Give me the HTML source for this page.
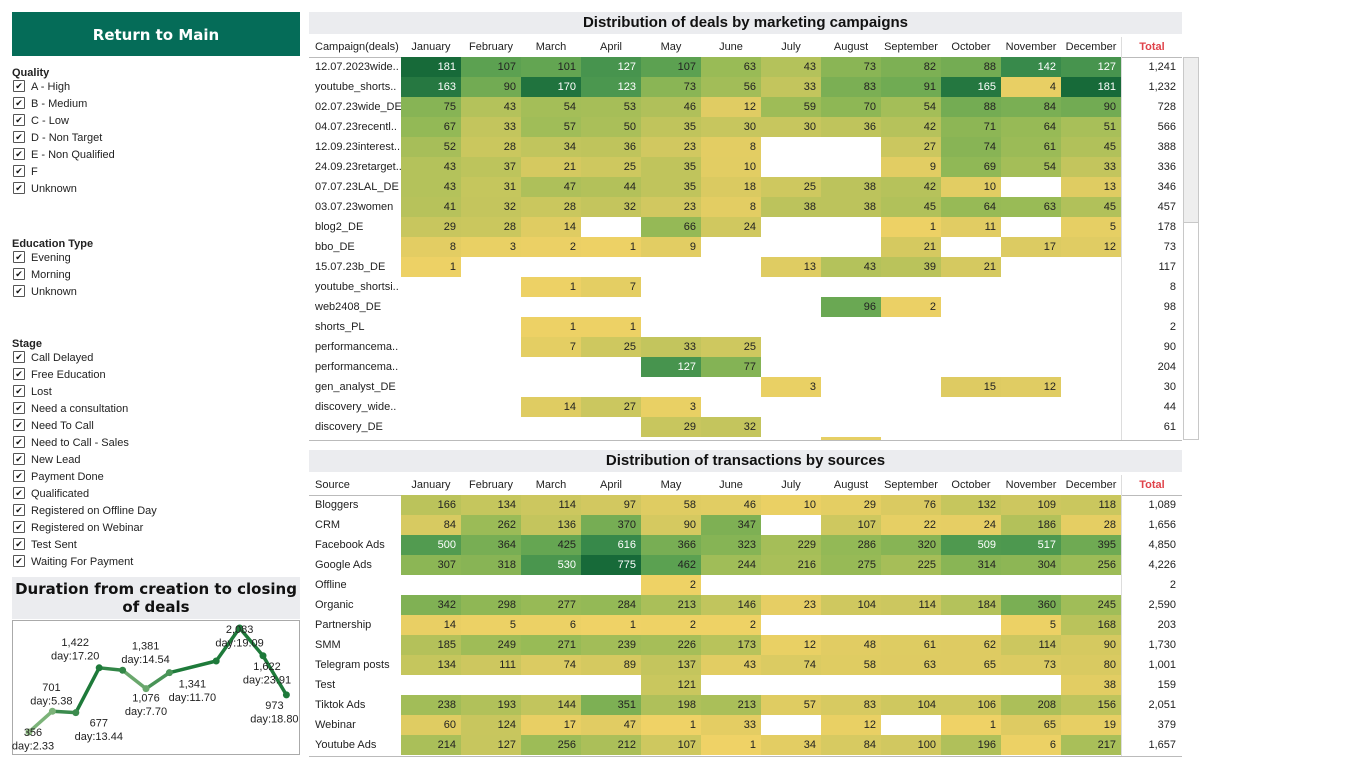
<!DOCTYPE html>
<html><head><meta charset="utf-8">
<style>
body{margin:0;width:1365px;height:767px;background:#fff;font-family:"Liberation Sans",sans-serif;position:relative;overflow:hidden;color:#222}
.abs{position:absolute}
.btn{left:12px;top:12px;width:288px;height:44px;background:#056c58;color:#fff;font-family:"DejaVu Sans",sans-serif;font-weight:bold;font-size:15px;line-height:46px;text-align:center}
.fh{font-size:11px;font-weight:bold;left:12px}
.fi{font-size:11px;left:13px;height:15px;line-height:15px;white-space:nowrap}
.cb{display:inline-block;width:10px;height:10px;border:1.5px solid #555;border-radius:1px;font-size:9px;line-height:10px;text-align:center;vertical-align:middle;margin-right:6px;margin-top:-2px;color:#111}
.ttl{background:#ebecef;font-weight:bold;font-size:15px;text-align:center;color:#111}
.cell{font-size:11px;text-align:right;box-sizing:border-box;padding-right:5px;height:20px;line-height:20px;width:60px}
.hd{font-size:11px;text-align:center;height:20px;line-height:20px;width:60px}
.lb{font-size:11px;height:20px;line-height:20px;left:315px;white-space:nowrap}
</style></head><body>
<div class="abs btn">Return to Main</div>
<div id="filters"></div>
<div class="abs ttl" style="left:12px;top:577px;width:288px;height:42px;line-height:18px;padding-top:3px;box-sizing:border-box;font-family:'DejaVu Sans',sans-serif">Duration from creation to closing of deals</div>
<svg class="abs" style="left:12px;top:620px;overflow:visible" width="289" height="136" id="line"></svg>
<div class="abs ttl" style="left:309px;top:12px;width:873px;height:22px;line-height:22px">Distribution of deals by marketing campaigns</div>
<div class="abs ttl" style="left:309px;top:450px;width:873px;height:22px;line-height:22px">Distribution of transactions by sources</div>
<div class="abs" style="left:1183px;top:57px;width:16px;height:383px;border:1px solid #c8c8c8;box-sizing:border-box;background:#fff"><div style="margin:0;height:164px;background:#eee;border-bottom:1px solid #c8c8c8"></div></div>
<div id="t1"></div><div id="t2"></div>
<script>
const qualityItems=["A - High","B - Medium","C - Low","D - Non Target","E - Non Qualified","F","Unknown"];
const eduItems=["Evening","Morning","Unknown"];
const stageItems=["Call Delayed","Free Education","Lost","Need a consultation","Need To Call","Need to Call - Sales","New Lead","Payment Done","Qualificated","Registered on Offline Day","Registered on Webinar","Test Sent","Waiting For Payment"];
const months=["January","February","March","April","May","June","July","August","September","October","November","December"];
const campaigns=["12.07.2023wide..","youtube_shorts..","02.07.23wide_DE","04.07.23recentl..","12.09.23interest..","24.09.23retarget..","07.07.23LAL_DE","03.07.23women","blog2_DE","bbo_DE","15.07.23b_DE","youtube_shortsi..","web2408_DE","shorts_PL","performancema..","performancema..","gen_analyst_DE","discovery_wide..","discovery_DE","performancema.."];
const N=null;
const campaignValues=[
[181,107,101,127,107,63,43,73,82,88,142,127],
[163,90,170,123,73,56,33,83,91,165,4,181],
[75,43,54,53,46,12,59,70,54,88,84,90],
[67,33,57,50,35,30,30,36,42,71,64,51],
[52,28,34,36,23,8,N,N,27,74,61,45],
[43,37,21,25,35,10,N,N,9,69,54,33],
[43,31,47,44,35,18,25,38,42,10,N,13],
[41,32,28,32,23,8,38,38,45,64,63,45],
[29,28,14,N,66,24,N,N,1,11,N,5],
[8,3,2,1,9,N,N,N,21,N,17,12],
[1,N,N,N,N,N,13,43,39,21,N,N],
[N,N,1,7,N,N,N,N,N,N,N,N],
[N,N,N,N,N,N,N,96,2,N,N,N],
[N,N,1,1,N,N,N,N,N,N,N,N],
[N,N,7,25,33,25,N,N,N,N,N,N],
[N,N,N,N,127,77,N,N,N,N,N,N],
[N,N,N,N,N,N,3,N,N,15,12,N],
[N,N,14,27,3,N,N,N,N,N,N,N],
[N,N,N,N,29,32,N,N,N,N,N,N],
[N,N,N,N,N,N,N,5,N,N,N,N]];
const campaignTotals=["1,241","1,232","728","566","388","336","346","457","178","73","117","8","98","2","90","204","30","44","61","5"];
const sources=["Bloggers","CRM","Facebook Ads","Google Ads","Offline","Organic","Partnership","SMM","Telegram posts","Test","Tiktok Ads","Webinar","Youtube Ads"];
const sourceValues=[
[166,134,114,97,58,46,10,29,76,132,109,118],
[84,262,136,370,90,347,N,107,22,24,186,28],
[500,364,425,616,366,323,229,286,320,509,517,395],
[307,318,530,775,462,244,216,275,225,314,304,256],
[N,N,N,N,2,N,N,N,N,N,N,N],
[342,298,277,284,213,146,23,104,114,184,360,245],
[14,5,6,1,2,2,N,N,N,N,5,168],
[185,249,271,239,226,173,12,48,61,62,114,90],
[134,111,74,89,137,43,74,58,63,65,73,80],
[N,N,N,N,121,N,N,N,N,N,N,38],
[238,193,144,351,198,213,57,83,104,106,208,156],
[60,124,17,47,1,33,N,12,N,1,65,19],
[214,127,256,212,107,1,34,84,100,196,6,217]];
const sourceTotals=["1,089","1,656","4,850","4,226","2","2,590","203","1,730","1,001","159","2,051","379","1,657"];
const durMonths=[1,2,3,4,5,6,7,9,10,11,12];
const durCounts=[356,701,677,1422,1381,1076,1341,1535,2083,1622,973];
const durDays=[2.33,5.38,13.44,17.20,14.54,7.70,11.70,17.5,19.09,23.91,18.80];
const durLabels=["356","701","677","1,422","1,381","1,076","1,341","","2,083","1,622","973"];
const durDayLabels=["day:2.33","day:5.38","day:13.44","day:17.20","day:14.54","day:7.70","day:11.70","","day:19.09","day:23.91","day:18.80"];

function mk(parent,cls,style,text,name,inter){const d=document.createElement('div');d.className='abs '+cls;d.style.cssText=style;if(text!=null)d.textContent=text;


parent.appendChild(d);return d;}
const F=document.getElementById('filters');
function group(title,items,y0,slug){mk(F,'fh','top:'+(y0-5)+'px',title,slug+'-filter-title',false);
items.forEach((t,i)=>{const e=mk(F,'fi','top:'+(y0+8+i*17)+'px',null,slug+'-option-'+t.toLowerCase().replace(/[^a-z0-9]+/g,'-'),true);
e.innerHTML='<span class="cb">✔</span>'+t;});}
group('Quality',qualityItems,72,'quality');group('Education Type',eduItems,243,'education');group('Stage',stageItems,343,'stage');

const stops=[[0,[242,211,102]],[0.3,[221,203,98]],[0.45,[190,196,92]],[0.6,[150,186,86]],[0.75,[98,165,82]],[0.88,[58,140,76]],[1,[23,106,57]]];
function col(t){for(let i=1;i<stops.length;i++){if(t<=stops[i][0]){const a=stops[i-1],b=stops[i],f=(t-a[0])/(b[0]-a[0]);return 'rgb('+a[1].map((v,k)=>Math.round(v+(b[1][k]-v)*f)).join(',')+')';}}return 'rgb(23,106,57)';}
function table(id,top,headLabel,labels,vals,totals,clipBottom,slug){
 const P=document.getElementById(id);
 const wrap=mk(P,'','left:309px;top:'+top+'px;width:873px;height:'+(clipBottom-top)+'px;overflow:hidden',null,slug+'-table',false);
 mk(wrap,'lb','left:6px;top:0','' +headLabel,slug+'-header-label',false);
 months.forEach((m,j)=>mk(wrap,'hd','left:'+(92+j*60)+'px;top:0',m,slug+'-header-'+m.toLowerCase(),false));
 mk(wrap,'hd','left:812px;top:0;color:#e0434b;font-weight:bold;border-left:1px solid #ddd',"Total",slug+'-header-total',false);
 mk(wrap,'','left:0;top:20px;width:873px;height:1px;background:#bbb',null,slug+'-header-rule',false);
 mk(wrap,'','left:812px;top:0;width:1px;height:'+(clipBottom-top)+'px;background:#ddd',null,slug+'-total-rule',false);
 let mx=0;vals.forEach(r=>r.forEach(v=>{if(v!=null&&v>mx)mx=v;}));
 labels.forEach((l,i)=>{const y=20+i*20;
  mk(wrap,'lb','left:6px;top:'+y+'px',l,slug+'-row-label',false);
  vals[i].forEach((v,j)=>{if(v==null)return;const t=Math.sqrt(v/mx);
   mk(wrap,'cell','left:'+(92+j*60)+'px;top:'+y+'px;background:'+col(t)+';color:'+(t>0.8?'#fff':'#222'),v,slug+'-cell-'+months[j].toLowerCase(),false);});
  mk(wrap,'cell','left:812px;top:'+y+'px;width:60px',totals[i],slug+'-row-total',false);});
 mk(wrap,'','left:0;top:'+(clipBottom-top-1)+'px;width:873px;height:1px;background:#bbb',null,slug+'-bottom-rule',false);
}
table('t1',37,'Campaign(deals)',campaigns,campaignValues,campaignTotals,441,'campaigns');
table('t2',475,'Source',sources,sourceValues,sourceTotals,757,'sources');

// line chart
const svg=document.getElementById('line');const NS='http://www.w3.org/2000/svg';
function sx(m){return 17+(m-1)*23.4;}
const cMin=356,cMax=2083;function sy(c){return 112-(c-cMin)/(cMax-cMin)*104;}
function lc(d){const t=Math.min(1,d/17);const a=[168,205,150],b=[30,122,58];return 'rgb('+a.map((v,k)=>Math.round(v+(b[k]-v)*t)).join(',')+')';}
const box=document.createElementNS(NS,'rect');box.setAttribute('x',0.5);box.setAttribute('y',0.5);box.setAttribute('width',287);box.setAttribute('height',134);box.setAttribute('fill','none');box.setAttribute('stroke','#aaa');


svg.appendChild(box);
for(let i=1;i<durCounts.length;i++){const l=document.createElementNS(NS,'line');
 l.setAttribute('x1',sx(durMonths[i-1]));l.setAttribute('y1',sy(durCounts[i-1]));l.setAttribute('x2',sx(durMonths[i]));l.setAttribute('y2',sy(durCounts[i]));
 l.setAttribute('stroke',lc(durDays[i]));l.setAttribute('stroke-width',3.5);l.setAttribute('stroke-linecap','round');
 
 
 svg.appendChild(l);}
const ldx=[4,-1,23,-24,23,0,23,0,0,4,-12];
const ldy=[0,-24,10,-26,-25,9,11,0,1,10,10];
durCounts.forEach((c,i)=>{const x=sx(durMonths[i]),y=sy(c);
 const p=document.createElementNS(NS,'circle');p.setAttribute('cx',x);p.setAttribute('cy',y);p.setAttribute('r',3.5);p.setAttribute('fill',lc(durDays[i]));
 
 
 svg.appendChild(p);
 if(!durLabels[i])return;
 const cx=x+ldx[i],cy=y+ldy[i]+4;
 const t=document.createElementNS(NS,'text');t.setAttribute('x',cx);t.setAttribute('y',cy);t.setAttribute('text-anchor','middle');t.setAttribute('font-size','11');t.setAttribute('font-family','Liberation Sans, sans-serif');t.setAttribute('fill','#222');
 t.innerHTML='<tspan x="'+cx+'">'+durLabels[i]+'</tspan><tspan x="'+cx+'" dy="13.5">'+durDayLabels[i]+'</tspan>';
 
 
 svg.appendChild(t);});
</script>
</body></html>
